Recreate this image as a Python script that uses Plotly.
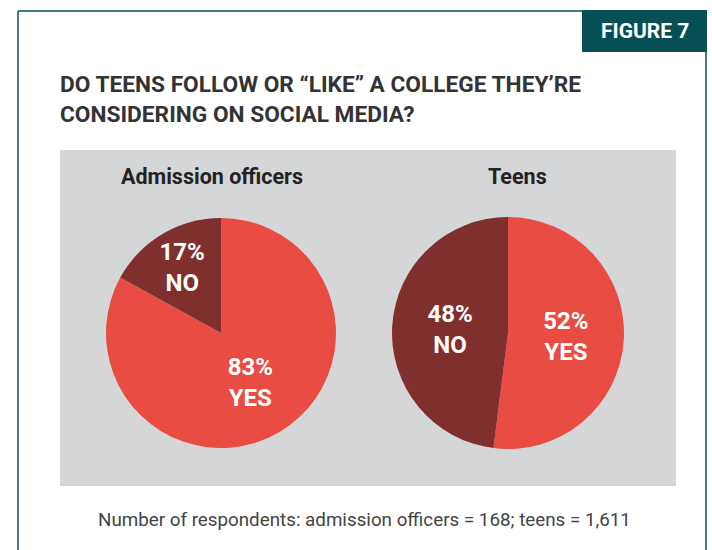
import plotly.graph_objects as go

W, H = 712, 550

answers = ["YES", "NO"]
officers_pct = [83, 17]
teens_pct = [52, 48]
group_titles = ["Admission officers", "Teens"]
figure_label = "FIGURE 7"
title_text = "DO TEENS FOLLOW OR “LIKE” A COLLEGE THEY’RE<br>CONSIDERING ON SOCIAL MEDIA?"
note_text = "Number of respondents: admission officers = 168; teens = 1,611"

RED = "#E84C43"
MAROON = "#80302C"
TEAL = "#064F55"
PANEL = "#D5D6D8"
FONT = "Roboto"


def px(x):
    return x / W


def py(y):
    return 1 - y / H


def pie_domain(cx, cy, r):
    return dict(x=[px(cx - r), px(cx + r)], y=[py(cy + r), py(cy - r)])


fig = go.Figure()
for vals, (cx, cy, r) in [(officers_pct, (221, 333, 115)), (teens_pct, (508, 333, 116))]:
    fig.add_trace(go.Pie(
        labels=answers,
        values=vals,
        text=[f"{v}%<br>{a}" for v, a in zip(vals, answers)],
        texttemplate="%{text}",
        textposition="inside",
        insidetextorientation="horizontal",
        insidetextfont=dict(family=FONT, size=24, color="white", weight="bold"),
        marker=dict(colors=[RED, MAROON], line=dict(width=0)),
        sort=False,
        direction="clockwise",
        rotation=0,
        domain=pie_domain(cx, cy, r),
        hoverinfo="skip",
        showlegend=False,
    ))

shapes = [
    # gray panel
    dict(type="rect", xref="paper", yref="paper", x0=px(60), x1=px(676), y0=py(486), y1=py(150),
         fillcolor=PANEL, line=dict(width=0), layer="below"),
    # frame lines
    dict(type="line", xref="paper", yref="paper", x0=px(18), x1=px(584), y0=py(11), y1=py(11),
         line=dict(color=TEAL, width=1.5)),
    dict(type="line", xref="paper", yref="paper", x0=px(18), x1=px(18), y0=py(11), y1=py(560),
         line=dict(color=TEAL, width=1.5)),
    dict(type="line", xref="paper", yref="paper", x0=px(706), x1=px(706), y0=py(50), y1=py(560),
         line=dict(color=TEAL, width=1.5)),
    # figure label box
    dict(type="rect", xref="paper", yref="paper", x0=px(582), x1=px(707), y0=py(52), y1=py(10),
         fillcolor=TEAL, line=dict(width=0)),
]

annotations = [
    dict(text=figure_label, x=px(645), y=py(31), xref="paper", yref="paper", showarrow=False,
         font=dict(family=FONT, size=21, color="white", weight="bold"), xanchor="center", yanchor="middle"),
    dict(text=title_text, x=px(58), y=py(69), xref="paper", yref="paper", showarrow=False, align="left",
         font=dict(family=FONT, size=22.7, color="#333333", weight="bold"), xanchor="left", yanchor="top"),
    dict(text=group_titles[0], x=px(212), y=py(176), xref="paper", yref="paper", showarrow=False,
         font=dict(family=FONT, size=21.5, color="#222222", weight="bold"), xanchor="center", yanchor="middle"),
    dict(text=group_titles[1], x=px(517), y=py(176), xref="paper", yref="paper", showarrow=False,
         font=dict(family=FONT, size=21.5, color="#222222", weight="bold"), xanchor="center", yanchor="middle"),
    dict(text=note_text, x=px(365), y=py(520), xref="paper", yref="paper", showarrow=False,
         font=dict(family=FONT, size=18.8, color="#444444"), xanchor="center", yanchor="middle"),
]

fig.update_layout(
    width=W, height=H,
    margin=dict(l=0, r=0, t=0, b=0),
    paper_bgcolor="white",
    plot_bgcolor="white",
    shapes=shapes,
    annotations=annotations,
)

fig.write_html("out.html", config={"displayModeBar": False},
               post_script="document.body.style.margin='0';")
